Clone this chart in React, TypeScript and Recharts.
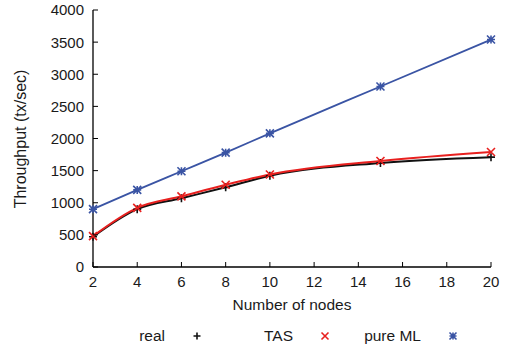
import { Legend, Line, LineChart, XAxis, YAxis } from 'recharts'

const nodes = [2, 4, 6, 8, 10, 15, 20]
const realTput = [470, 900, 1070, 1240, 1420, 1620, 1710]
const tasTput = [480, 920, 1100, 1280, 1440, 1650, 1790]
const pureMlTput = [900, 1200, 1490, 1780, 2080, 2810, 3540]

const xTicks = [2, 4, 6, 8, 10, 12, 14, 16, 18, 20]
const yTicks = [0, 500, 1000, 1500, 2000, 2500, 3000, 3500, 4000]

const REAL_COLOR = '#111111'
const TAS_COLOR = '#e8201f'
const PURE_ML_COLOR = '#3a54a4'
const TEXT_COLOR = '#1a1a1a'
const FONT = '"Liberation Sans", Arial, Helvetica, sans-serif'
const TICK_LEN = 5

const data = nodes.map((n, i) => ({
  nodes: n,
  real: realTput[i],
  tas: tasTput[i],
  pureMl: pureMlTput[i],
}))

type Mark = 'plus' | 'cross' | 'star'

function markPath(kind: Mark, cx: number, cy: number, r: number) {
  const plus = `M${cx - r},${cy}H${cx + r}M${cx},${cy - r}V${cy + r}`
  const cross = `M${cx - r},${cy - r}L${cx + r},${cy + r}M${cx - r},${cy + r}L${cx + r},${cy - r}`
  if (kind === 'plus') return plus
  if (kind === 'cross') return cross
  return plus + cross
}

function makeDot(kind: Mark, color: string) {
  return (props: any) => {
    const { cx, cy, index } = props
    if (cx == null || cy == null) return <g key={`m-${kind}-${index}`} />
    return (
      <path
        key={`m-${kind}-${index}`}
        d={markPath(kind, cx, cy, 4)}
        stroke={color}
        strokeWidth={1.6}
        fill="none"
      />
    )
  }
}

function BottomTick(props: any) {
  const { x, y, payload } = props
  const axisY = y - 9
  return (
    <g>
      <line x1={x} x2={x} y1={axisY} y2={axisY - TICK_LEN} stroke="#000" />
      <text x={x} y={y} dy="0.75em" textAnchor="middle" fill={TEXT_COLOR} fontSize={15} fontFamily={FONT}>
        {payload.value}
      </text>
    </g>
  )
}

function LeftTick(props: any) {
  const { x, y, payload } = props
  const axisX = x + 9
  return (
    <g>
      <line x1={axisX} x2={axisX + TICK_LEN} y1={y} y2={y} stroke="#000" />
      <text x={x} y={y} dy="0.36em" textAnchor="end" fill={TEXT_COLOR} fontSize={15} fontFamily={FONT}>
        {payload.value}
      </text>
    </g>
  )
}

function TopTick(props: any) {
  const { x, y } = props
  return <line x1={x} x2={x} y1={y} y2={y + TICK_LEN} stroke="#000" />
}

function RightTick(props: any) {
  const { x, y } = props
  return <line x1={x} x2={x - TICK_LEN} y1={y} y2={y} stroke="#000" />
}

// axis titles sit at fixed spots beside the plot frame
function YLabel() {
  const cx = 20
  const cy = 139
  return (
    <text
      x={cx}
      y={cy}
      transform={`rotate(-90 ${cx} ${cy})`}
      textAnchor="middle"
      dominantBaseline="central"
      fill={TEXT_COLOR}
      fontSize={16}
      fontFamily={FONT}
    >
      Throughput (tx/sec)
    </text>
  )
}

function XLabel(props: any) {
  const { viewBox } = props
  return (
    <text
      x={viewBox.x + viewBox.width / 2}
      y={310}
      textAnchor="middle"
      fill={TEXT_COLOR}
      fontSize={15.5}
      fontFamily={FONT}
    >
      Number of nodes
    </text>
  )
}

const legendItems: { label: string; kind: Mark; color: string }[] = [
  { label: 'real', kind: 'plus', color: REAL_COLOR },
  { label: 'TAS', kind: 'cross', color: TAS_COLOR },
  { label: 'pure ML', kind: 'star', color: PURE_ML_COLOR },
]

function KeyContent() {
  return (
    <div style={{ display: 'flex', height: 30, paddingLeft: 77, alignItems: 'center' }}>
      {legendItems.map((item) => (
        <div key={item.label} style={{ display: 'flex', width: 128, alignItems: 'center' }}>
          <span
            style={{
              width: 88,
              textAlign: 'right',
              fontSize: 15.5,
              fontFamily: FONT,
              color: TEXT_COLOR,
            }}
          >
            {item.label}
          </span>
          <svg width={40} height={16} style={{ display: 'block' }}>
            <path d={markPath(item.kind, 32, 8, 3.5)} stroke={item.color} strokeWidth={1.6} fill="none" />
          </svg>
        </div>
      ))}
    </div>
  )
}

export default function App() {
  return (
    <div style={{ position: 'absolute', left: 0, top: 0, width: 511, height: 351, background: '#fff' }}>
      <LineChart width={511} height={351} data={data} margin={{ top: 10, right: 20, bottom: 0, left: 0 }}>
        <XAxis
          dataKey="nodes"
          type="number"
          domain={[2, 20]}
          ticks={xTicks}
          interval={0}
          height={54}
          tickSize={0}
          tickMargin={9}
          tickLine={false}
          axisLine={{ stroke: '#000', strokeWidth: 1.3 }}
          tick={<BottomTick />}
          label={<XLabel />}
        />
        <XAxis
          xAxisId="top"
          dataKey="nodes"
          type="number"
          orientation="top"
          domain={[2, 20]}
          ticks={xTicks}
          interval={0}
          height={0}
          tickSize={0}
          tickMargin={0}
          tickLine={false}
          axisLine={{ stroke: '#000', strokeWidth: 1.3 }}
          tick={<TopTick />}
        />
        <YAxis
          type="number"
          domain={[0, 4000]}
          ticks={yTicks}
          interval={0}
          width={93}
          tickSize={0}
          tickMargin={9}
          tickLine={false}
          axisLine={{ stroke: '#000', strokeWidth: 1.3 }}
          tick={<LeftTick />}
          label={<YLabel />}
        />
        <YAxis
          yAxisId="right"
          orientation="right"
          type="number"
          domain={[0, 4000]}
          ticks={yTicks}
          interval={0}
          width={0}
          tickSize={0}
          tickMargin={0}
          tickLine={false}
          axisLine={{ stroke: '#000', strokeWidth: 1.3 }}
          tick={<RightTick />}
        />
        <Legend verticalAlign="bottom" content={<KeyContent />} />
        <Line
          type="monotone"
          dataKey="real"
          stroke={REAL_COLOR}
          strokeWidth={2}
          dot={makeDot('plus', REAL_COLOR)}
          isAnimationActive={false}
        />
        <Line
          type="monotone"
          dataKey="tas"
          stroke={TAS_COLOR}
          strokeWidth={2}
          dot={makeDot('cross', TAS_COLOR)}
          isAnimationActive={false}
        />
        <Line
          type="monotone"
          dataKey="pureMl"
          stroke={PURE_ML_COLOR}
          strokeWidth={1.8}
          dot={makeDot('star', PURE_ML_COLOR)}
          isAnimationActive={false}
        />
      </LineChart>
    </div>
  )
}
